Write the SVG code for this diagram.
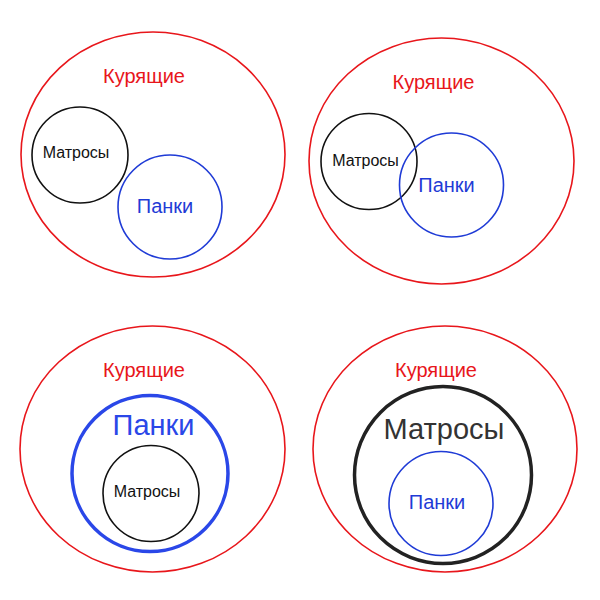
<svg xmlns="http://www.w3.org/2000/svg" width="600" height="600" viewBox="0 0 600 600">
<style>
text{font-family:"Liberation Sans",Arial,sans-serif;text-anchor:middle}
.red{fill:none;stroke:#e8161b;stroke-width:1.6}
.blk{fill:none;stroke:#111;stroke-width:1.6}
.blu{fill:none;stroke:#1f3bd6;stroke-width:1.6}
.tr{fill:#e8161b;font-size:20px}
.tk{fill:#111;font-size:16px}
.tb{fill:#1f3bd6;font-size:20px}
</style>
<rect width="600" height="600" fill="#fff"/>
<g id="panel1">
<g id="smokers1"><ellipse class="red" cx="153" cy="154.5" rx="132" ry="122.5"/><text class="tr" x="144" y="83">Курящие</text></g>
<g id="sailors1"><circle class="blk" cx="80" cy="155" r="48"/><text class="tk" x="76" y="158">Матросы</text></g>
<g id="punks1"><circle class="blu" cx="170" cy="207" r="52"/><text class="tb" x="165" y="213">Панки</text></g>
</g>
<g id="panel2">
<g id="smokers2"><ellipse class="red" cx="441.5" cy="161" rx="132.5" ry="123"/><text class="tr" x="433.5" y="89">Курящие</text></g>
<g id="sailors2"><circle class="blk" cx="369" cy="161.5" r="48"/><text class="tk" x="365.5" y="166">Матросы</text></g>
<g id="punks2"><circle class="blu" cx="451.5" cy="185" r="52"/><text class="tb" x="446.5" y="192">Панки</text></g>
</g>
<g id="panel3">
<g id="smokers3"><ellipse class="red" cx="152.5" cy="449" rx="132.5" ry="123"/><text class="tr" x="144" y="377">Курящие</text></g>
<g id="punks3"><circle fill="none" stroke="#2a47e8" stroke-width="3.5" cx="150" cy="473.5" r="78"/><text fill="#2a47e8" font-size="29" x="153.5" y="435">Панки</text></g>
<g id="sailors3"><circle class="blk" cx="151" cy="493.5" r="48"/><text class="tk" x="147" y="497">Матросы</text></g>
</g>
<g id="panel4">
<g id="smokers4"><ellipse class="red" cx="445" cy="449" rx="132" ry="123"/><text class="tr" x="436" y="377">Курящие</text></g>
<g id="sailors4"><circle fill="none" stroke="#222" stroke-width="3.5" cx="443" cy="475" r="88.5"/><text fill="#333" font-size="29" x="444" y="439">Матросы</text></g>
<g id="punks4"><circle class="blu" cx="441" cy="503.5" r="52"/><text class="tb" x="437" y="509">Панки</text></g>
</g>
</svg>
